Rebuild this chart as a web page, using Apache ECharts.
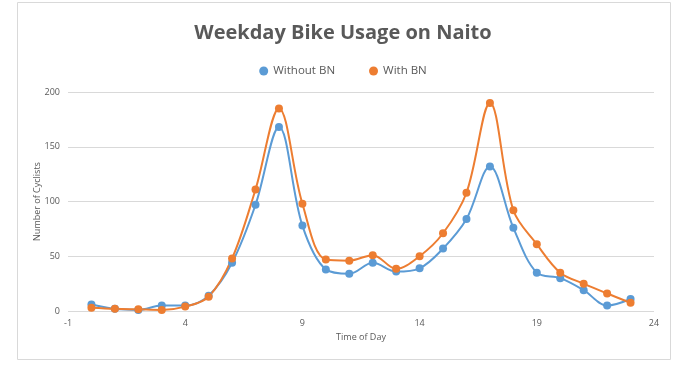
<!DOCTYPE html>
<html>
<head>
<meta charset="utf-8">
<script src="https://cdn.jsdelivr.net/npm/echarts@6/dist/echarts.min.js"></script>
<style>
  html, body { margin: 0; padding: 0; background: #fff; }
  #chart { width: 686px; height: 376px; }
</style>
</head>
<body>
<div id="chart"></div>
<script>
// hour of day
var hours = [0, 1, 2, 3, 4, 5, 6, 7, 8, 9, 10, 11, 12, 13, 14, 15, 16, 17, 18, 19, 20, 21, 22, 23];
var withoutBN = [6, 2, 1, 5, 5, 14, 44, 97, 168, 78, 38, 34, 44, 36, 39, 57, 84, 132, 76, 35, 30, 19, 5, 11];
var withBN = [3, 2, 1.5, 1, 4, 13, 48, 111, 185, 98, 47, 46, 51, 38.5, 50, 71, 108, 190, 92, 61, 35, 25, 16, 7.5];
var xTicks = [-1, 4, 9, 14, 19, 24];
var yTicks = [0, 50, 100, 150, 200];

function pairs(vals) {
	return hours.map(function (h, i) { return [h, vals[i]]; });
}

var myChart = echarts.init(document.getElementById('chart'));
var font = '"Open Sans", "Liberation Sans", sans-serif';

var option = {
	animation: false,
	textStyle: { fontFamily: font },
	graphic: [{
		type: 'rect',
		shape: { x: 17.5, y: 2.5, width: 653, height: 357 },
		style: { fill: 'none', stroke: '#d9d9d9', lineWidth: 1 },
		silent: true
	}],
	title: {
		text: 'Weekday Bike Usage on Naito',
		left: 'center',
		top: 18,
		textStyle: { fontSize: 20, fontWeight: 'bold', color: '#595959', fontFamily: font }
	},
	legend: {
		top: 60,
		left: 'center',
		itemGap: 34,
		itemWidth: 9,
		itemHeight: 9,
		icon: 'circle',
		textStyle: { fontSize: 11.5, color: '#595959' },
		data: ['Without BN', 'With BN']
	},
	grid: { left: 68, right: 32, top: 92, bottom: 65 },
	xAxis: {
		type: 'value',
		min: xTicks[0],
		max: xTicks[xTicks.length - 1],
		interval: 5,
		name: 'Time of Day',
		nameLocation: 'middle',
		nameGap: 22,
		nameTextStyle: { fontSize: 9, color: '#595959' },
		axisLine: { show: false },
		axisTick: { show: false },
		splitLine: { show: false },
		axisLabel: { fontSize: 9, color: '#595959', margin: 8 }
	},
	yAxis: {
		type: 'value',
		min: yTicks[0],
		max: yTicks[yTicks.length - 1],
		interval: 50,
		name: 'Number of Cyclists',
		nameLocation: 'middle',
		nameRotate: 90,
		nameGap: 26,
		nameMoveOverlap: false,
		nameTextStyle: { fontSize: 9, color: '#595959' },
		axisLine: { show: false },
		axisTick: { show: false },
		splitLine: { lineStyle: { color: '#d9d9d9', width: 1 } },
		axisLabel: { fontSize: 9, color: '#595959', margin: 8 }
	},
	series: [
		{
			name: 'Without BN',
			type: 'line',
			smooth: 0.35,
			symbol: 'circle',
			symbolSize: 8,
			itemStyle: { color: '#5b9bd5' },
			lineStyle: { width: 2, color: '#5b9bd5' },
			data: pairs(withoutBN)
		},
		{
			name: 'With BN',
			type: 'line',
			smooth: 0.35,
			symbol: 'circle',
			symbolSize: 8,
			itemStyle: { color: '#ed7d31' },
			lineStyle: { width: 2, color: '#ed7d31' },
			data: pairs(withBN)
		}
	]
};

myChart.setOption(option);
</script>
</body>
</html>
